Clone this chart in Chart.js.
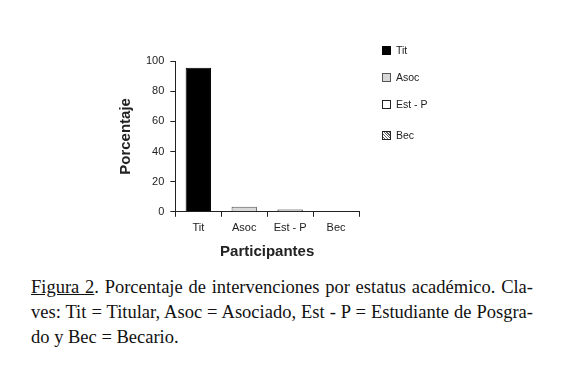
<!DOCTYPE html>
<html>
<head>
<meta charset="utf-8">
<script src="https://cdn.jsdelivr.net/npm/chart.js@4"></script>
<style>
  body { margin: 0; background: #fff; width: 562px; height: 375px; position: relative; overflow: hidden; }
  #wrap { position: absolute; left: 0; top: 0; width: 562px; height: 270px; }
  #legend { position: absolute; left: 382px; top: 44px; font-family: "Liberation Sans", Arial, sans-serif; font-size: 10.5px; color: #222; }
  #legend div { height: 27px; display: flex; align-items: flex-start; }
  #legend div.last { margin-top: 4px; }
  #legend span.box { display: inline-block; width: 7px; height: 7px; margin-right: 5px; margin-top: 2px; border: 1px solid #333; }
  #caption { position: absolute; left: 31px; top: 275px; width: 502px; font-family: "Liberation Serif", "Times New Roman", serif; font-size: 18.5px; line-height: 25px; color: #111; }
  #caption div.j { text-align: justify; text-align-last: justify; white-space: nowrap; }
</style>
</head>
<body>
<div id="wrap"><canvas id="chart_canvas" width="562" height="270"></canvas></div>
<div id="legend"></div>
<div id="caption">
  <div class="j"><u>Figura 2</u>. Porcentaje de intervenciones por estatus académico. Cla-</div>
  <div class="j">ves: Tit = Titular, Asoc = Asociado, Est - P = Estudiante de Posgra-</div>
  <div>do y Bec = Becario.</div>
</div>
<script>
var categories = ['Tit', 'Asoc', 'Est - P', 'Bec'];
var percentages = [95.5, 3.3, 1.5, 0];
var y_ticks = [0, 20, 40, 60, 80, 100];

var bar_fill = ['#000000', '#d8d8d8', '#ffffff', '#ffffff'];
var bar_border = ['#000000', '#555555', '#222222', '#222222'];

// dotted fill for "Bec"
make_pattern = function()
{
  var c = document.createElement('canvas');
  c.width = 3; c.height = 3;
  var g = c.getContext('2d');
  g.fillStyle = '#fff'; g.fillRect(0, 0, 3, 3);
  g.fillStyle = '#555'; g.fillRect(1, 1, 1, 1);
  return c;
};

var legend_html = '';
for (var i = 0; i < categories.length; i++)
{
  var bg = bar_fill[i];
  if (i == 3) bg = 'repeating-linear-gradient(45deg,#fff 0 1px,#666 1px 2px)';
  legend_html += '<div' + (i == 3 ? ' class="last"' : '') + '><span class="box" style="background:' + bg + ';border-color:' + bar_border[i] + '"></span>' + categories[i] + '</div>';
}
document.getElementById('legend').innerHTML = legend_html;

var ctx = document.getElementById('chart_canvas').getContext('2d');
var pat = ctx.createPattern(make_pattern(), 'repeat');
var fills = bar_fill.slice();
fills[3] = pat;

var font_family = '"Liberation Sans", Arial, sans-serif';

new Chart(ctx, {
  type: 'bar',
  data: {
    labels: categories,
    datasets: [{
      label: '',
      data: percentages,
      backgroundColor: fills,
      borderColor: bar_border,
      borderWidth: 1,
      barPercentage: 0.6,
      categoryPercentage: 0.92
    }]
  },
  options: {
    responsive: false,
    animation: false,
    layout: { padding: { left: 113, right: 203, top: 61, bottom: 5 } },
    plugins: { legend: { display: false }, tooltip: { enabled: false } },
    scales: {
      x: {
        offset: true,
        grid: { offset: true, drawOnChartArea: false, drawTicks: true, tickLength: 5, color: '#222' },
        border: { color: '#222', width: 1 },
        ticks: { color: '#222', font: { family: font_family, size: 11 }, padding: 5 },
        title: { display: true, text: 'Participantes', color: '#222', font: { family: font_family, size: 15, weight: 'bold' }, padding: { top: 3 } }
      },
      y: {
        min: 0,
        max: 100,
        afterBuildTicks: function(axis) { axis.ticks = y_ticks.map(function(v) { return { value: v }; }); },
        grid: { drawOnChartArea: false, drawTicks: true, tickLength: 5, color: '#222' },
        border: { color: '#222', width: 1 },
        ticks: { color: '#222', font: { family: font_family, size: 11 }, padding: 6 },
        title: { display: true, text: 'Porcentaje', color: '#222', font: { family: font_family, size: 15, weight: 'bold' }, padding: { bottom: 5 } }
      }
    }
  }
});
</script>
</body>
</html>
